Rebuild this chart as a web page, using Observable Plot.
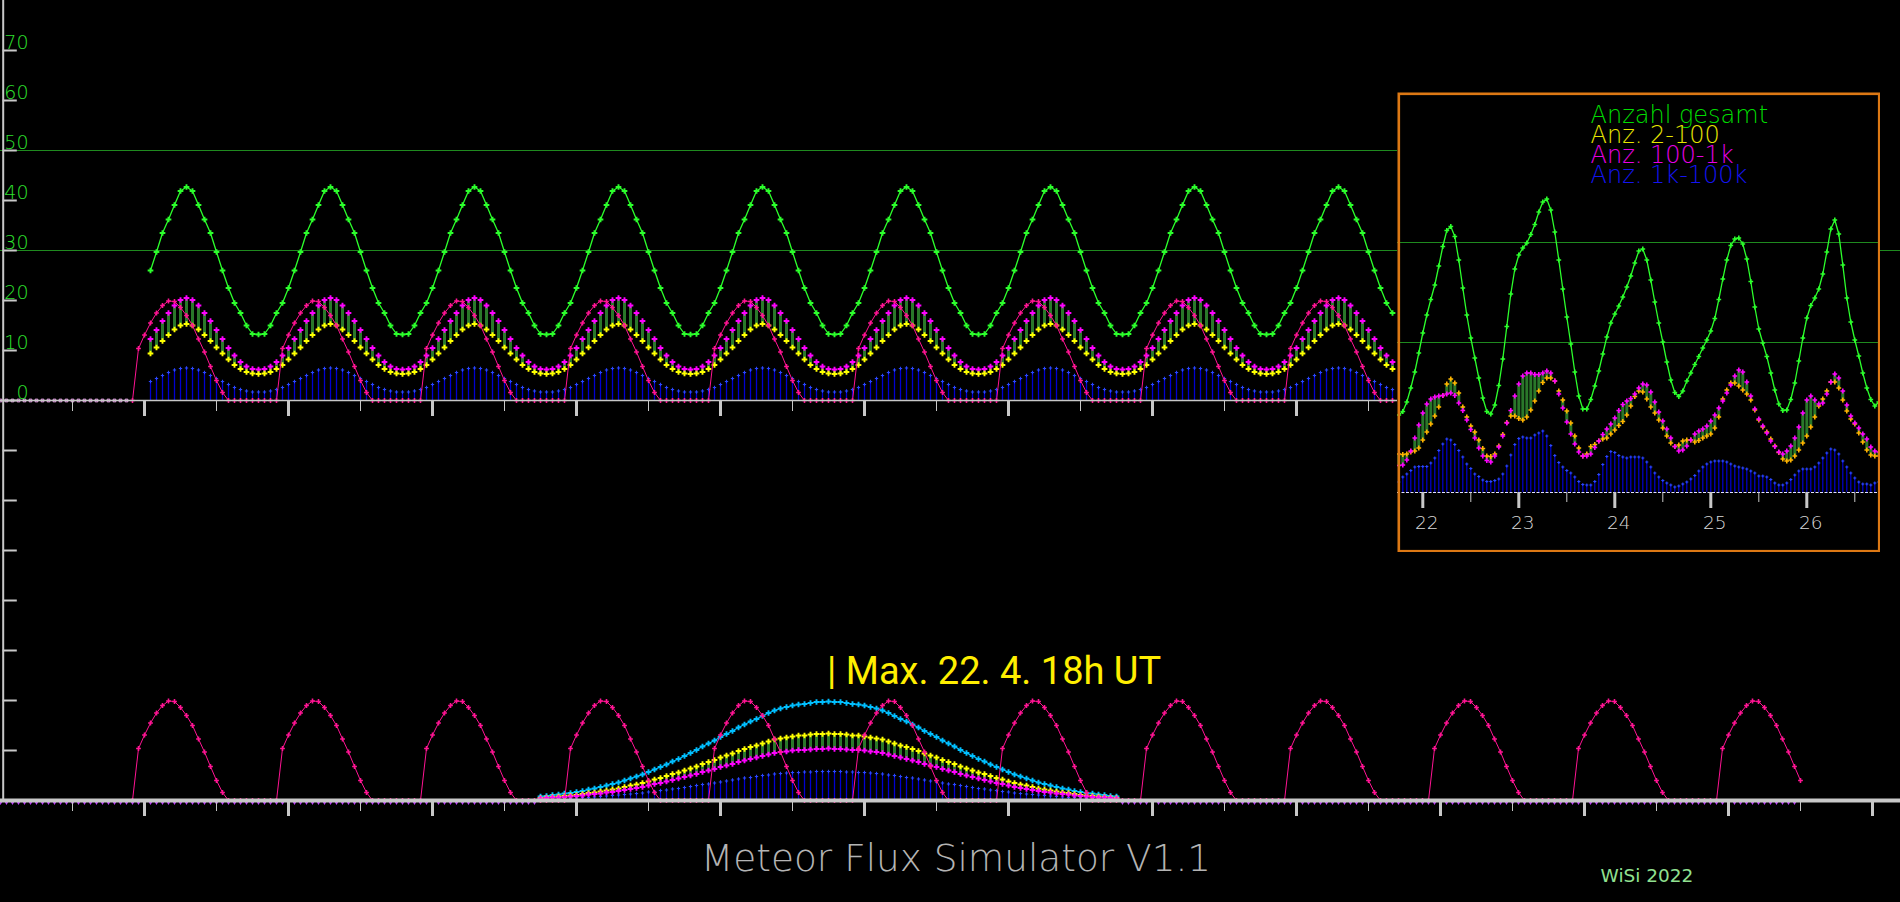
<!DOCTYPE html>
<html><head><meta charset="utf-8">
<script src="https://cdn.jsdelivr.net/npm/d3@7"></script>
<script src="https://cdn.jsdelivr.net/npm/@observablehq/plot@0.6"></script>
<style>
html,body{margin:0;padding:0;background:#000;overflow:hidden}
#wrap{position:relative;width:1900px;height:902px}
#inset{position:absolute;left:1397px;top:92px;width:483px;height:460px}
svg{display:block}
</style></head><body><div id="wrap"><div id="main"></div><div id="inset"></div></div>
<script>
// ---- time axis: hours since 17 April 0h UT ----
const yLabels = [0, 10, 20, 30, 40, 50, 60, 70];
const gridValues = [30, 50];
const insetDayLabels = ["22", "23", "24", "25", "26"];
const legendLabels = ["Anzahl gesamt", "Anz. 2-100", "Anz. 100-1k", "Anz. 1k-100k"];
const maxNote = "| Max. 22. 4. 18h UT";
const maxHour = 138;
const titleText = "Meteor Flux Simulator V1.1";
const creditText = "WiSi 2022";

// ---- upper panel: one simulated day, by UT hour 0..23 (repeats identically each day) ----
const dailyTotal    = [22.5,26.0,29.7,33.5,36.2,39.1,41.9,42.7,41.9,39.1,36.2,33.5,29.7,26.0,22.5,19.5,17.5,15.0,13.3,13.2,13.3,15.0,17.5,19.5];
const daily2to100   = [8.2,9.4,10.6,11.9,13.1,14.2,15.0,15.3,15.0,14.2,13.1,11.9,10.6,9.4,8.2,7.1,6.3,5.7,5.4,5.3,5.4,5.7,6.3,7.1];
const daily100to1k  = [10.5,12.3,14.1,15.9,17.5,19.0,20.1,20.5,20.1,19.0,17.5,15.9,14.1,12.3,10.5,9.0,7.7,6.8,6.3,6.2,6.3,6.8,7.7,9.0];
const daily1kto100k = [3.2,3.8,4.4,5.0,5.6,6.1,6.4,6.5,6.4,6.1,5.6,5.0,4.4,3.8,3.2,2.6,2.2,1.9,1.7,1.7,1.7,1.9,2.2,2.6];
const radiantAlt    = [13.1,15.5,17.5,19.0,19.9,19.8,18.6,17.0,15.0,12.3,9.7,6.8,4.0,1.6,0,0,0,0,0,0,0,0,0,10.4];
const topFirstHour = 25, topLastHour = 232, radiantFirstHour = 22, radiantLastHour = 300;

// ---- lower panel: shower activity profile, hours 90..186 ----
const bellFirstHour = 90;
const bellZHR = [0.8,0.9,1.1,1.2,1.4,1.5,1.7,1.9,2.2,2.4,2.7,3.0,3.3,3.6,4.0,4.4,4.8,5.2,5.7,6.2,6.7,7.2,7.8,8.3,8.9,9.5,10.1,10.8,11.4,12.0,12.7,13.3,13.9,14.6,15.2,15.8,16.3,16.9,17.5,18.0,18.4,18.7,19.0,19.2,19.3,19.5,19.7,19.7,19.8,
 19.7,19.7,19.5,19.3,19.2,19.0,18.7,18.4,18.0,17.5,16.9,16.3,15.8,15.2,14.6,13.9,13.3,12.7,12.0,11.4,10.8,10.1,9.5,8.9,8.3,7.8,7.2,6.7,6.2,5.7,5.2,4.8,4.4,4.0,3.6,3.3,3.0,2.7,2.4,2.2,1.9,1.7,1.5,1.4,1.2,1.1,0.9,0.8];
const bell2to100 = [0.5,0.6,0.7,0.8,0.9,1.0,1.1,1.3,1.5,1.6,1.8,2.0,2.2,2.4,2.7,3.0,3.2,3.5,3.8,4.2,4.5,4.9,5.3,5.6,6.0,6.4,6.8,7.3,7.7,8.1,8.6,9.0,9.4,9.9,10.3,10.7,11.0,11.4,11.8,12.2,12.4,12.6,12.8,13.0,13.0,13.2,13.3,13.3,13.4,
 13.3,13.3,13.2,13.0,13.0,12.8,12.6,12.4,12.2,11.8,11.4,11.0,10.7,10.3,9.9,9.4,9.0,8.6,8.1,7.7,7.3,6.8,6.4,6.0,5.6,5.3,4.9,4.5,4.2,3.8,3.5,3.2,3.0,2.7,2.4,2.2,2.0,1.8,1.6,1.5,1.3,1.1,1.0,0.9,0.8,0.7,0.6,0.5];
const bell100to1k = [0.4,0.5,0.6,0.6,0.7,0.8,0.9,1.0,1.2,1.3,1.4,1.6,1.7,1.9,2.1,2.3,2.5,2.7,3.0,3.3,3.5,3.8,4.1,4.4,4.7,5.0,5.3,5.7,6.0,6.3,6.7,7.0,7.3,7.7,8.0,8.3,8.6,8.9,9.2,9.5,9.7,9.8,10.0,10.1,10.1,10.2,10.3,10.3,10.4,
 10.3,10.3,10.2,10.1,10.1,10.0,9.8,9.7,9.5,9.2,8.9,8.6,8.3,8.0,7.7,7.3,7.0,6.7,6.3,6.0,5.7,5.3,5.0,4.7,4.4,4.1,3.8,3.5,3.3,3.0,2.7,2.5,2.3,2.1,1.9,1.7,1.6,1.4,1.3,1.2,1.0,0.9,0.8,0.7,0.6,0.6,0.5,0.4];
const bell1kto100k = [0.2,0.3,0.3,0.4,0.4,0.4,0.5,0.6,0.6,0.7,0.8,0.9,1.0,1.1,1.2,1.3,1.4,1.5,1.7,1.8,2.0,2.1,2.3,2.4,2.6,2.8,3.0,3.2,3.3,3.5,3.7,3.9,4.1,4.3,4.5,4.6,4.8,5.0,5.1,5.3,5.4,5.5,5.6,5.6,5.7,5.7,5.8,5.8,5.8,
 5.8,5.8,5.7,5.7,5.6,5.6,5.5,5.4,5.3,5.1,5.0,4.8,4.6,4.5,4.3,4.1,3.9,3.7,3.5,3.3,3.2,3.0,2.8,2.6,2.4,2.3,2.1,2.0,1.8,1.7,1.5,1.4,1.3,1.2,1.1,1.0,0.9,0.8,0.7,0.6,0.6,0.5,0.4,0.4,0.4,0.3,0.3,0.2];

// ---- inset: simulated hourly counts 21.4. 18h .. 26.4. 18h (hours 114..234) ----
const insetFirstHour = 114;
const insetTotal = [15.5,16.2,18.1,20.9,24.1,27.9,31.9,35.5,38.6,41.5,45.3,49.2,52.4,53.2,51.2,46.5,40.9,35.5,30.9,26.9,
 22.9,18.9,16.2,15.7,17.5,21.4,26.7,33.2,39.7,44.7,47.5,48.9,49.9,51.6,53.6,56.1,58.1,58.7,56.5,52.1,
 46.5,40.7,35.1,29.7,24.1,19.3,16.7,16.7,18.6,21.3,24.3,27.7,31.1,33.9,35.7,37.3,39.1,41.1,43.3,45.9,
 48.3,48.7,46.5,42.5,38.1,33.9,30.1,26.1,22.5,20.0,19.2,20.3,22.3,23.9,25.6,27.2,28.9,30.5,32.3,34.8,
 38.6,42.7,46.5,49.4,50.7,50.9,49.7,46.7,42.2,37.1,32.7,29.9,27.2,23.9,20.5,17.7,16.4,16.5,18.6,21.9,
 26.3,30.9,34.9,37.4,38.9,40.7,43.7,48.1,52.7,54.5,51.7,45.5,38.9,34.1,30.5,27.3,23.9,20.9,18.6,17.3,18.1];
const inset100to1k = [5.4,5.5,6.5,8.3,10.9,13.5,15.9,17.7,18.7,19.1,19.3,19.4,19.7,19.9,19.4,17.9,16.4,14.5,12.6,10.9,
 8.9,7.3,6.4,6.1,7.3,9.1,11.3,13.9,16.4,19.3,21.7,23.3,23.9,23.9,23.6,23.6,23.9,24.3,23.9,22.3,
 19.7,16.9,14.1,11.7,9.7,8.1,7.3,7.3,7.7,9.0,10.3,11.6,12.7,13.7,14.9,16.4,17.6,18.3,18.8,19.7,
 20.9,21.7,21.5,20.1,18.1,16.1,14.3,12.7,10.9,9.2,8.3,8.5,9.3,10.5,11.7,12.3,12.7,13.3,14.3,15.5,
 16.9,18.3,19.9,21.5,23.3,24.5,24.1,22.1,19.3,16.7,14.7,13.3,11.9,10.3,9.2,8.1,7.7,8.3,9.3,10.9,
 13.1,15.9,18.5,19.3,18.5,17.7,17.9,19.7,22.1,23.7,22.9,20.3,17.5,15.3,13.9,12.9,11.7,10.7,9.1,8.3,8.1];
const inset2to100 = [7.7,7.6,7.7,8.1,8.3,8.9,10.5,12.1,13.7,15.3,17.1,19.4,21.7,22.7,21.9,19.9,17.1,15.1,13.3,12.1,
 10.5,8.8,7.3,7.2,7.7,9.3,11.6,14.0,15.3,15.3,14.8,14.5,15.1,16.5,18.3,20.3,22.0,22.9,22.9,22.3,
 20.3,18.5,16.3,13.9,11.3,8.9,7.3,7.7,9.2,9.6,10.3,10.7,10.9,11.7,12.5,13.4,14.2,15.5,17.3,19.2,
 20.3,20.1,18.7,17.1,15.9,14.5,12.9,11.3,9.9,9.2,9.5,10.3,10.5,10.5,10.1,10.4,10.9,11.3,11.7,12.9,
 15.1,18.7,20.5,21.9,21.9,21.3,20.5,19.7,18.5,16.5,14.5,13.1,12.1,10.7,9.3,8.0,6.7,6.3,6.5,7.3,
 8.5,9.9,11.3,13.1,15.1,17.3,18.7,20.3,22.1,22.1,20.9,18.5,16.3,14.7,13.7,11.9,10.1,8.5,7.5,7.3,7.3];
const inset1kto100k = [2.1,3.1,3.7,4.4,5.1,5.2,5.2,5.2,5.9,6.9,8.4,9.7,10.7,10.5,9.6,8.4,7.1,5.7,4.8,3.7,
 3.2,2.5,2.2,2.2,2.4,2.7,3.7,5.3,7.5,9.6,10.8,11.1,10.9,10.9,11.5,11.9,12.3,11.3,9.4,7.4,
 6.0,5.1,4.4,3.9,3.1,2.2,1.6,1.5,1.5,2.2,3.6,5.6,7.2,8.2,8.0,7.4,7.1,6.9,7.1,7.1,
 7.1,6.9,6.1,5.1,3.9,3.1,2.4,1.9,1.5,1.1,1.3,1.7,2.1,2.7,3.4,4.3,5.1,5.7,6.1,6.3,
 6.3,6.3,6.1,5.7,5.3,5.1,4.9,4.7,4.3,3.9,3.3,3.3,3.1,2.6,1.9,1.5,1.5,1.9,2.6,3.5,
 4.3,4.7,4.7,4.7,5.1,5.9,6.9,7.9,8.7,8.5,7.7,6.3,5.1,3.9,2.9,2.1,1.7,1.7,1.5,1.9,2.1];

// ---- build rows ----
const LOW = -80; // the lower panel sits 80 units below the upper one on the shared y scale
const topRows = d3.range(topFirstHour, topLastHour + 1).map(h => ({
  h, total: dailyTotal[h % 24], a: daily2to100[h % 24], b: daily100to1k[h % 24], c: daily1kto100k[h % 24]
}));
const radTop = d3.range(radiantFirstHour, topLastHour + 1).map(h => ({h, v: radiantAlt[h % 24]}));
const radLow = d3.range(radiantFirstHour, radiantLastHour + 1).map(h => ({h, v: radiantAlt[h % 24] + LOW}));
const bellRows = bellZHR.map((z, i) => ({
  h: bellFirstHour + i, z: z + LOW, a: bell2to100[i] + LOW, b: bell100to1k[i] + LOW, c: bell1kto100k[i] + LOW
}));
const zeroTop = d3.range(0, radiantFirstHour).map(h => ({h}));
const zeroLow = d3.range(0, radiantLastHour).filter(h => h < bellFirstHour || h >= bellFirstHour + bellZHR.length).map(h => ({h}));
const insetRows = insetTotal.map((t, i) => ({
  h: insetFirstHour + i, total: t, a: inset2to100[i], b: inset100to1k[i], c: inset1kto100k[i]
}));

const thin = "'DejaVu Sans ExtraLight','DejaVu Sans',sans-serif";
const GREEN = "#2cff2c", YEL = "#ffff00", MAG = "#ff00ff", BLUE = "#0000d2", BLUE2 = "#2a46ff",
      PINK = "#ff1493", CYAN = "#00bfff", BAR = "#2a782a", GRID = "#1f8a1f", AX = "#c8c8c8";
const insetEdgeHour = 1397 / 6;
const dayTicks = d3.range(24, 1900 / 6, 24);
const halfTicks = d3.range(12, 1900 / 6, 24);

const main = Plot.plot({
  width: 1900, height: 902,
  marginTop: 0, marginLeft: 0, marginRight: 0, marginBottom: 102,
  x: {domain: [0, 1900 / 6], axis: null},
  y: {domain: [-80, 80], axis: null},
  style: {background: "#000", overflow: "visible"},
  marks: [
    Plot.ruleY([gridValues[1]], {x1: 0, x2: insetEdgeHour, stroke: GRID, strokeWidth: 1.2}),
    Plot.ruleY([gridValues[0]], {stroke: GRID, strokeWidth: 1.2}),
    // upper panel
    Plot.ruleX(topRows, {x: "h", y1: 0, y2: "c", stroke: BLUE, strokeWidth: 1.3}),
    Plot.dot(topRows, {x: "h", y: "c", symbol: "cross", r: 1.4, fill: BLUE2}),
    Plot.ruleX(topRows, {x: "h", y1: "a", y2: "b", stroke: BAR, strokeWidth: 3}),
    Plot.line(topRows, {x: "h", y: "total", stroke: GREEN, strokeWidth: 1.3}),
    Plot.dot(topRows, {x: "h", y: "total", symbol: "cross", r: 2.4, fill: GREEN}),
    Plot.dot(topRows, {x: "h", y: "b", symbol: "cross", r: 2.4, fill: MAG}),
    Plot.dot(topRows, {x: "h", y: "a", symbol: "cross", r: 2.4, fill: YEL}),
    Plot.line(radTop, {x: "h", y: "v", stroke: PINK, strokeWidth: 1}),
    Plot.dot(radTop, {x: "h", y: "v", symbol: "cross", r: 2, fill: PINK}),
    Plot.dot(zeroTop, {x: "h", y: 0, symbol: "square", r: 1.5, fill: "none", stroke: "#ffb0ff", strokeWidth: 1}),
    // lower panel
    Plot.ruleX(bellRows, {x: "h", y1: LOW, y2: "c", stroke: BLUE, strokeWidth: 1.3}),
    Plot.dot(bellRows, {x: "h", y: "c", symbol: "cross", r: 1.4, fill: BLUE2}),
    Plot.ruleX(bellRows, {x: "h", y1: "b", y2: "a", stroke: BAR, strokeWidth: 3}),
    Plot.line(bellRows, {x: "h", y: "z", stroke: CYAN, strokeWidth: 1.2}),
    Plot.dot(bellRows, {x: "h", y: "z", symbol: "cross", r: 2.4, fill: CYAN}),
    Plot.dot(bellRows, {x: "h", y: "a", symbol: "cross", r: 2.4, fill: YEL}),
    Plot.dot(bellRows, {x: "h", y: "b", symbol: "cross", r: 2.4, fill: MAG}),
    Plot.line(radLow, {x: "h", y: "v", stroke: PINK, strokeWidth: 1}),
    Plot.dot(radLow, {x: "h", y: "v", symbol: "cross", r: 2, fill: PINK}),
    Plot.dot(zeroLow, {x: "h", y: LOW, dy: 2.5, symbol: "triangle", rotate: 180, r: 1.3, fill: "#c040ff"}),
    // axes
    Plot.ruleX([0], {dx: 2.7, y1: -80, y2: 80, stroke: AX, strokeWidth: 2}),
    Plot.ruleY(d3.range(-70, 71, 10), {x1: 0.45, x2: 2.8, stroke: AX, strokeWidth: 2}),
    Plot.text(yLabels, {text: d => String(d), y: d => d, frameAnchor: "left", dx: 28, dy: -2, textAnchor: "end",
      lineAnchor: "bottom", fill: "#2ee02e", fontSize: 19, fontFamily: thin, fontWeight: 200}),
    Plot.ruleY([0], {x1: 0, x2: insetEdgeHour, stroke: AX, strokeWidth: 1.3}),
    Plot.ruleX(dayTicks.filter(h => h < insetEdgeHour), {y1: 0, y2: -3.2, stroke: AX, strokeWidth: 3}),
    Plot.ruleX(halfTicks.filter(h => h < insetEdgeHour), {y1: 0, y2: -2.2, stroke: AX, strokeWidth: 1}),
    Plot.ruleY([LOW], {stroke: AX, strokeWidth: 4}),
    Plot.ruleX(dayTicks, {y1: LOW, y2: LOW - 3.2, stroke: AX, strokeWidth: 3}),
    Plot.ruleX(halfTicks, {y1: LOW, y2: LOW - 2.2, stroke: AX, strokeWidth: 1}),
    // texts
    Plot.text([maxNote], {text: d => d, x: maxHour, y: 23.4 + LOW, dx: -1.5, textAnchor: "start", lineAnchor: "bottom",
      fill: "#ffee00", fontSize: 38, fontFamily: "Roboto, 'Open Sans', sans-serif"}),
    Plot.text([titleText], {text: d => d, frameAnchor: "bottom", dx: 5.6, dy: 70.7, lineAnchor: "bottom",
      fill: "#b4b4b4", fontSize: 37.4, fontFamily: thin, fontWeight: 200}),
    Plot.text([creditText], {text: d => d, frameAnchor: "bottom-left", dx: 1600, dy: 81, textAnchor: "start", lineAnchor: "bottom",
      fill: "#90e090", fontSize: 18.5, fontFamily: "'DejaVu Sans', sans-serif"})
  ]
});
document.getElementById("main").appendChild(main);

const legendColors = ["#00dc00", "#e6e600", "#e600e6", "#1414f0"];
const ORANGE = "#ffb400";
const inset = Plot.plot({
  width: 483, height: 460, margin: 0,
  x: {domain: [insetFirstHour - 0.325, insetFirstHour + 120.425], axis: null},
  y: {domain: [-12, 80], axis: null},
  style: {background: "#000"},
  marks: [
    Plot.ruleY(gridValues, {stroke: GRID, strokeWidth: 1.2}),
    Plot.ruleX(insetRows, {x: "h", y1: 0, y2: "c", stroke: BLUE, strokeWidth: 1.2}),
    Plot.dot(insetRows, {x: "h", y: "c", symbol: "cross", r: 1.3, fill: BLUE2}),
    Plot.ruleX(insetRows, {x: "h", y1: "a", y2: "b", stroke: BAR, strokeWidth: 3}),
    Plot.line(insetRows, {x: "h", y: "total", stroke: GREEN, strokeWidth: 1.3}),
    Plot.dot(insetRows, {x: "h", y: "total", symbol: "cross", r: 2, fill: GREEN}),
    Plot.dot(insetRows, {x: "h", y: "a", symbol: "cross", r: 2, fill: ORANGE}),
    Plot.dot(insetRows, {x: "h", y: "b", symbol: "cross", r: 2, fill: MAG}),
    Plot.ruleY([0], {stroke: "#e0e0ff", strokeWidth: 1, strokeDasharray: "3,1.5"}),
    Plot.ruleX(insetDayLabels.map(d => (+d - 17) * 24), {y1: 0, y2: -3.2, stroke: AX, strokeWidth: 3}),
    Plot.ruleX(insetDayLabels.map(d => (+d - 17) * 24 + 12), {y1: 0, y2: -2, stroke: AX, strokeWidth: 1}),
    Plot.text(insetDayLabels, {text: d => d, x: d => (+d - 17) * 24, dx: 4, frameAnchor: "bottom", dy: -24,
      lineAnchor: "bottom", fill: "#d8d8d8", fontSize: 18.5, fontFamily: thin, fontWeight: 200}),
    ...legendLabels.map((t, i) => Plot.text([t], {text: d => d, frameAnchor: "top-left", dx: 193, dy: 30.7 + 20 * i,
      textAnchor: "start", lineAnchor: "bottom", fill: legendColors[i], fontSize: 24, fontFamily: thin, fontWeight: 200})),
    Plot.frame({stroke: "#dc7814", strokeWidth: 2.6, inset: 1.3})
  ]
});
document.getElementById("inset").appendChild(inset);
</script></body></html>
